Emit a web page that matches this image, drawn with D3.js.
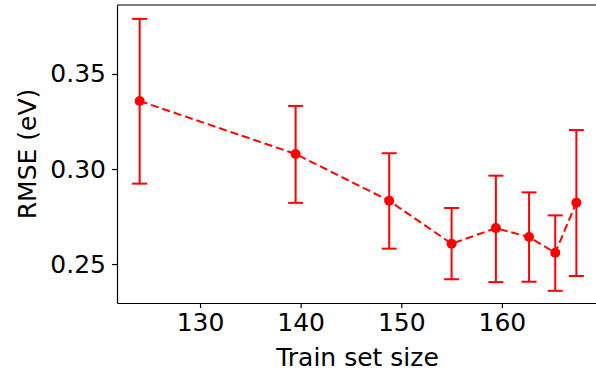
<html>
    <head>
        <script src="https://cdn.jsdelivr.net/npm/d3@7"></script>
        <style>
            body { margin: 0; background: #fff; }
            text { font-family: "DejaVu Sans", sans-serif; }
        </style>
    </head>
    <body>
        <div id="chart"></div>
        <script type="text/javascript">
            // values
            const trainSize = [124.0, 139.5, 148.8, 155.0, 159.4, 162.7, 165.3, 167.4]
            const rmse      = [0.3358, 0.3079, 0.2833, 0.2607, 0.2689, 0.2642, 0.2559, 0.2823]
            const errLow    = [0.2923, 0.2822, 0.2581, 0.2420, 0.2405, 0.2407, 0.2359, 0.2437]
            const errHigh   = [0.3790, 0.3332, 0.3083, 0.2795, 0.2965, 0.2877, 0.2756, 0.3205]
            const xTicks = [130, 140, 150, 160]
            const yTicks = [0.25, 0.30, 0.35]

            const points = trainSize.map((x, i) => ({x: x, y: rmse[i], lo: errLow[i], hi: errHigh[i]}))

            const svg = d3.select("#chart").append("svg")
                .attr("width", 596)
                .attr("height", 371)

            const plotLeft = 117, plotRight = 598, plotTop = 5, plotBottom = 303

            const x = d3.scaleLinear().domain([121.75, 169.55]).range([plotLeft, plotRight])
            const y = d3.scaleLinear().domain([0.2295, 0.3863]).range([plotBottom, plotTop])

            const red = "#ff0000"

            // spines (left, bottom, top; right is off the picture)
            svg.append("g")
                .attr("transform", `translate(0, ${plotBottom})`)
                .call(d3.axisBottom(x).tickValues(xTicks).tickFormat(d3.format("d"))
                    .tickSizeInner(5).tickSizeOuter(0).tickPadding(5))
            svg.append("g")
                .attr("transform", `translate(${plotLeft}, 0)`)
                .call(d3.axisLeft(y).tickValues(yTicks).tickFormat(d3.format(".2f"))
                    .tickSizeInner(5).tickSizeOuter(0).tickPadding(6))
            svg.append("line")
                .attr("x1", plotLeft).attr("x2", plotRight)
                .attr("y1", plotTop).attr("y2", plotTop)
                .attr("stroke", "#000").attr("stroke-width", 1.2)

            svg.selectAll(".domain")
                .attr("stroke", "#000").attr("stroke-width", 1.2)
            svg.selectAll(".tick line")
                .attr("stroke", "#000").attr("stroke-width", 1.2)
            svg.selectAll(".tick text")
                .attr("fill", "#000")
                .style("font-size", "25px")
                .style("font-family", "DejaVu Sans")

            // error bars
            const bars = svg.append("g").selectAll("g").data(points).enter().append("g")
            bars.append("line")
                .attr("x1", d => x(d.x)).attr("x2", d => x(d.x))
                .attr("y1", d => y(d.lo)).attr("y2", d => y(d.hi))
                .attr("stroke", red).attr("stroke-width", 2)
            bars.append("line")
                .attr("x1", d => x(d.x) - 7.5).attr("x2", d => x(d.x) + 7.5)
                .attr("y1", d => y(d.lo)).attr("y2", d => y(d.lo))
                .attr("stroke", red).attr("stroke-width", 2)
            bars.append("line")
                .attr("x1", d => x(d.x) - 7.5).attr("x2", d => x(d.x) + 7.5)
                .attr("y1", d => y(d.hi)).attr("y2", d => y(d.hi))
                .attr("stroke", red).attr("stroke-width", 2)

            // dashed line
            const line = d3.line().x(d => x(d.x)).y(d => y(d.y))
            svg.append("path")
                .datum(points)
                .attr("d", line)
                .attr("fill", "none")
                .attr("stroke", red)
                .attr("stroke-width", 2)
                .attr("stroke-dasharray", "8,4")

            svg.selectAll("circle.pt")
                .data(points)
                .enter()
                .append("circle")
                .attr("class", "pt")
                .attr("cx", d => x(d.x))
                .attr("cy", d => y(d.y))
                .attr("r", 5)
                .style("fill", red)

            // axis labels
            svg.append("text")
                .attr("x", (plotLeft + plotRight) / 2)
                .attr("y", 366)
                .attr("text-anchor", "middle")
                .style("font-size", "25px")
                .text("Train set size")
            svg.append("text")
                .attr("transform", `translate(36, ${(plotTop + plotBottom) / 2}) rotate(-90)`)
                .attr("text-anchor", "middle")
                .style("font-size", "25px")
                .text("RMSE (eV)")
        </script>
    </body>
</html>
